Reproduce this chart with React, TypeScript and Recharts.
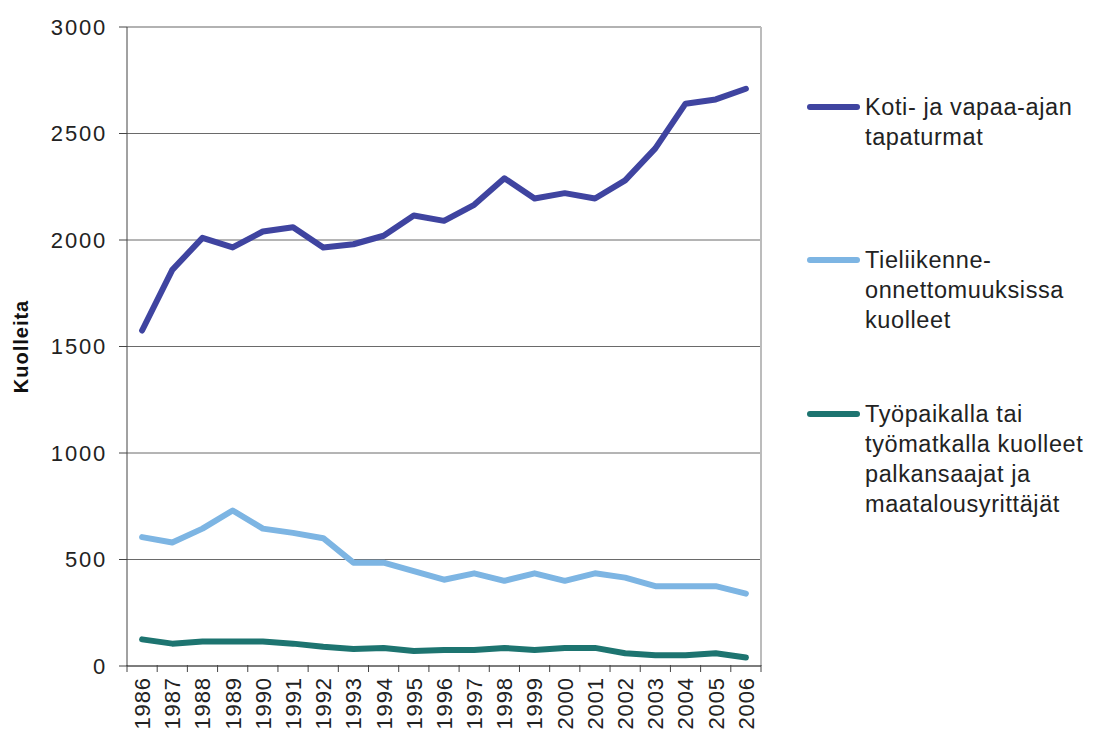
import { LineChart, Line, XAxis, YAxis, CartesianGrid, ReferenceLine } from 'recharts'

const years = [
  1986, 1987, 1988, 1989, 1990, 1991, 1992, 1993, 1994, 1995, 1996,
  1997, 1998, 1999, 2000, 2001, 2002, 2003, 2004, 2005, 2006,
]

// Koti- ja vapaa-ajan tapaturmat
const kotiVapaa = [
  1575, 1860, 2010, 1965, 2040, 2060, 1965, 1980, 2020, 2115, 2090,
  2165, 2290, 2195, 2220, 2195, 2280, 2430, 2640, 2660, 2710,
]

// Tieliikenneonnettomuuksissa kuolleet
const tieliikenne = [
  605, 580, 645, 730, 645, 625, 600, 485, 485, 445, 405,
  435, 400, 435, 400, 435, 415, 375, 375, 375, 340,
]

// Työpaikalla tai työmatkalla kuolleet
const tyopaikka = [
  125, 105, 115, 115, 115, 105, 90, 80, 85, 70, 75,
  75, 85, 75, 85, 85, 60, 50, 50, 60, 40,
]

const yTicks = [0, 500, 1000, 1500, 2000, 2500, 3000]

const seriesKeys = ['koti', 'tie', 'tyo']
const seriesColors = ['#3F44A0', '#7DB5E3', '#1D7470']
const seriesLabels = [
  ['Koti- ja vapaa-ajan', 'tapaturmat'],
  ['Tieliikenne-', 'onnettomuuksissa', 'kuolleet'],
  ['Työpaikalla tai', 'työmatkalla kuolleet', 'palkansaajat ja', 'maatalousyrittäjät'],
]
const legendTops = [92, 245, 399]

const data = years.map((year, i) => ({
  year,
  koti: kotiVapaa[i],
  tie: tieliikenne[i],
  tyo: tyopaikka[i],
}))

// year labels sit at the centre of each slot, tick marks at the slot borders
const boundaries = [...years.map(y => y - 0.5), years[years.length - 1] + 0.5]
const xTicks = [...boundaries, ...years].sort((a, b) => a - b)

const font = '"Liberation Sans", Arial, sans-serif'

function XTick(props: any) {
  const { x, y, payload } = props
  const v = payload.value
  if (!Number.isInteger(v)) {
    return <line x1={x} y1={y - 8} x2={x} y2={y - 1} stroke="#444" strokeWidth={1} />
  }
  const ty = y + 4
  return (
    <text
      x={x}
      y={ty}
      transform={`rotate(-90, ${x}, ${ty})`}
      textAnchor="end"
      dy="0.36em"
      fill="#222"
      fontSize={22}
      letterSpacing={0.9}
      fontFamily={font}
    >
      {v}
    </text>
  )
}

function YTitle(props: any) {
  const { viewBox } = props
  const cx = viewBox.x + 21
  const cy = viewBox.y + viewBox.height / 2
  return (
    <text
      x={cx}
      y={cy}
      transform={`rotate(-90, ${cx}, ${cy})`}
      textAnchor="middle"
      dy="0.36em"
      fill="#111"
      fontSize={20}
      fontWeight="bold"
      letterSpacing={1}
      fontFamily={font}
    >
      Kuolleita
    </text>
  )
}

export default function App() {
  return (
    <div style={{ position: 'absolute', left: 0, top: 0, width: 1099, height: 731, background: '#fff' }}>
      <LineChart
        width={1099}
        height={731}
        data={data}
        margin={{ top: 27, right: 338, bottom: 0, left: 0 }}
      >
        <CartesianGrid horizontal vertical={false} stroke="#6a6a6a" />
        <XAxis
          dataKey="year"
          type="number"
          domain={[1985.5, 2006.5]}
          ticks={xTicks}
          interval={0}
          tickLine={false}
          tickSize={7}
          tickMargin={0}
          axisLine={{ stroke: '#444' }}
          height={65}
          tick={<XTick />}
          allowDataOverflow
        />
        <YAxis
          domain={[0, 3000]}
          ticks={yTicks}
          interval={0}
          width={127}
          tickSize={8}
          tickMargin={12}
          axisLine={{ stroke: '#444' }}
          tickLine={{ stroke: '#444' }}
          tick={{ fill: '#222', fontSize: 22, letterSpacing: 1.8, fontFamily: font }}
          label={<YTitle />}
        />
        <ReferenceLine y={3000} stroke="#b2b2b2" strokeWidth={2} />
        <ReferenceLine x={2006.5} stroke="#bcbcbc" strokeWidth={2} />
        {seriesKeys.map((k, i) => (
          <Line
            key={k}
            type="linear"
            dataKey={k}
            stroke={seriesColors[i]}
            strokeWidth={6}
            strokeLinecap="round"
            strokeLinejoin="round"
            dot={false}
            activeDot={false}
            isAnimationActive={false}
          />
        ))}
      </LineChart>
      {seriesKeys.map((k, i) => (
        <div
          key={k}
          style={{
            position: 'absolute',
            left: 807,
            top: legendTops[i],
            display: 'flex',
            alignItems: 'flex-start',
            fontFamily: font,
            fontSize: 23.5,
            lineHeight: '30px',
            color: '#222',
            letterSpacing: 0.6,
          }}
        >
          <div
            style={{
              width: 53,
              height: 6,
              borderRadius: 3,
              background: seriesColors[i],
              marginTop: 12,
              marginRight: 5,
            }}
          />
          <div>
            {seriesLabels[i].map((line, j) => (
              <div key={j} style={{ whiteSpace: 'nowrap' }}>{line}</div>
            ))}
          </div>
        </div>
      ))}
    </div>
  )
}
